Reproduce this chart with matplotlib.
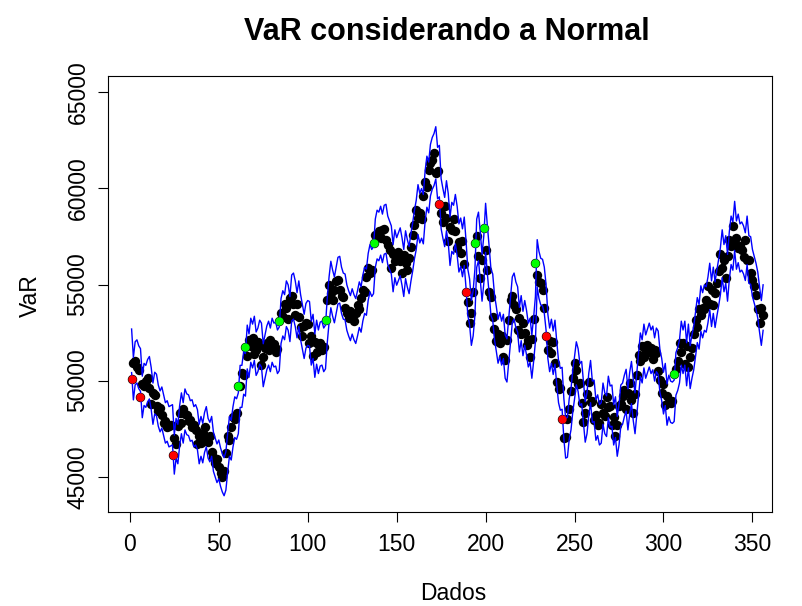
"""VaR considerando a Normal: série observada com bandas de VaR e exceções."""

from __future__ import annotations

import matplotlib

matplotlib.use("Agg")

import matplotlib.pyplot as plt
import numpy as np
from matplotlib.axes import Axes
from matplotlib.figure import Figure

# Série observada (um ponto por dia, t = 1..356)
var_obs = [
    50100, 50900, 51000, 50700, 50550, 49150, 49800, 49700, 50000, 50150,
    49600, 48800, 49350, 49250, 48700, 48400, 48600, 48200, 47800, 47900,
    47600, 47650, 47700, 46150, 47000, 46700, 47650, 48300, 47800, 48500,
    48250, 48200, 47900, 47950, 47600, 47700, 47450, 46700, 47100, 46750,
    47300, 47600, 47000, 46800, 47100, 46300, 46000, 45700, 45900, 45500,
    45200, 45000, 45300, 46250, 47100, 46900, 47600, 48100, 48000, 48300,
    49700, 49700, 50400, 50300, 51750, 51300, 52100, 51800, 52200, 51400,
    51600, 52000, 51850, 50800, 51250, 51700, 51950, 51600, 52100, 51850,
    51900, 51500, 51650, 53100, 53500, 53300, 54000, 53800, 53200, 54300,
    54400, 54000, 53400, 54000, 53300, 52800, 52300, 52850, 53000, 52950,
    51950, 52300, 51300, 52000, 51500, 51900, 51950, 51600, 51750, 53150,
    54200, 55000, 54550, 54200, 54700, 55200, 55250, 54700, 54400, 54350,
    53800, 53500, 53250, 53600, 53300, 53100, 53500, 53950, 53700, 54300,
    54700, 54600, 55400, 55850, 55600, 55750, 57150, 57600, 57500, 57800,
    57400, 57850, 57900, 57300, 57050, 56800, 55850, 56600, 56200, 56450,
    56700, 56200, 55600, 56550, 56100, 55750, 56400, 56950, 57600, 58100,
    58900, 58450, 58700, 58400, 59600, 60350, 60050, 60950, 61300, 61500,
    61850, 60800, 60900, 59200, 58700, 58250, 59100, 58450, 57250, 58000,
    57850, 58400, 57800, 56900, 57200, 56650, 57250, 56050, 54600, 54100,
    53000, 53500, 54600, 57150, 57500, 56500, 55350, 56300, 57950, 56800,
    55750, 54600, 54350, 53300, 52700, 52050, 52400, 51950, 52300, 51250,
    51050, 52100, 53150, 54200, 54400, 53950, 53700, 52650, 53250, 52450,
    53000, 52500, 51850, 52100, 51250, 52150, 53200, 56100, 55500, 55150,
    55100, 54700, 53800, 52300, 51600, 52050, 51450, 52000, 50900, 49950,
    49550, 49600, 48000, 47000, 47050, 48000, 48500, 49450, 50150, 50900,
    50550, 49800, 49900, 48850, 47850, 48300, 49300, 49950, 48900, 48950,
    47950, 48200, 47700, 47800, 48800, 48300, 48150, 49150, 48650, 48700,
    47700, 48100, 47100, 47700, 48700, 48800, 49200, 49500, 48500, 49350,
    49900, 49000, 48300, 49300, 50300, 51350, 51000, 51800, 51250, 51550,
    51850, 51500, 51700, 51100, 51600, 51450, 50500, 50050, 49350, 49800,
    48750, 49200, 48900, 48850, 48950, 50350, 50600, 51000, 51950, 51500,
    51950, 50850, 51800, 50700, 51250, 51700, 52400, 53150, 52800, 53750,
    53400, 53800, 53700, 54200, 54900, 54000, 54700, 53950, 54550, 55100,
    55700, 56600, 55850, 56300, 55350, 56500, 57300, 57000, 58050, 57050,
    57400, 56900, 57000, 56800, 56450, 57300, 56300, 56250, 55600, 55250,
    54900, 54450, 53700, 53000, 53800, 53400,
]
previsao_inicial = 51550  # valor anterior ao primeiro dia
var_pct = 0.022  # meia-largura relativa da banda (Normal)

# Dias com exceção (índices t, começando em 1)
dias_abaixo = [1, 6, 24, 174, 189, 234, 243]
dias_acima = [61, 65, 84, 110, 137, 194, 199, 228, 306]

x_ticks = [0, 50, 100, 150, 200, 250, 300, 350]
y_ticks = [45000, 50000, 55000, 60000, 65000]

TICK_FONT = 16.5
TITLE_FONT = 22


def _style_axes(ax: Axes) -> None:
    ax.set_xlim(-12.4, 361.0)
    ax.set_ylim(43148, 65864)
    ax.set_xticks(x_ticks)
    ax.set_yticks(y_ticks)
    ax.set_yticklabels([str(v) for v in y_ticks], rotation=90, va="center")
    ax.tick_params(axis="both", direction="out", length=7.2, width=0.8,
                   labelsize=TICK_FONT)
    ax.tick_params(axis="x", pad=8)
    ax.tick_params(axis="y", pad=6)
    for spine in ax.spines.values():
        spine.set_linewidth(0.8)


def build_figure() -> Figure:
    plt.rcParams["font.family"] = ["Liberation Sans", "DejaVu Sans"]
    fig = plt.figure(figsize=(8.03, 6.06), dpi=100)
    ax = fig.add_axes([0.1342, 0.1546, 0.8272, 0.7205])

    obs = np.asarray(var_obs, dtype=float)
    dias = np.arange(1, len(obs) + 1)
    anterior = np.r_[previsao_inicial, obs[:-1]]
    superior = anterior * (1 + var_pct)
    inferior = anterior * (1 - var_pct)

    ax.scatter(dias, obs, s=46, color="black", linewidths=0, zorder=2)
    ax.plot(dias, superior, color="#0000FF", linewidth=1.0, zorder=3)
    ax.plot(dias, inferior, color="#0000FF", linewidth=1.0, zorder=3)

    idx_baixo = np.asarray(dias_abaixo) - 1
    idx_alto = np.asarray(dias_acima) - 1
    ax.scatter(dias[idx_baixo], obs[idx_baixo], s=36, color="#FF0000", linewidths=0, zorder=4)
    ax.scatter(dias[idx_alto], obs[idx_alto], s=36, color="#00FF00", linewidths=0, zorder=4)

    _style_axes(ax)
    fig.text(0.557, 1 - 32 / 606, "VaR considerando a Normal", fontsize=TITLE_FONT,
             fontweight="bold", ha="center", va="center")
    fig.text(0.565, 1 - 593 / 606, "Dados", fontsize=TICK_FONT, ha="center", va="center")
    fig.text(30 / 803, 1 - 296 / 606, "VaR", fontsize=TICK_FONT, rotation=90,
             ha="center", va="center")
    return fig


if __name__ == "__main__":
    figure = build_figure()
    figure.savefig("out.png", dpi=100)
    plt.close(figure)
